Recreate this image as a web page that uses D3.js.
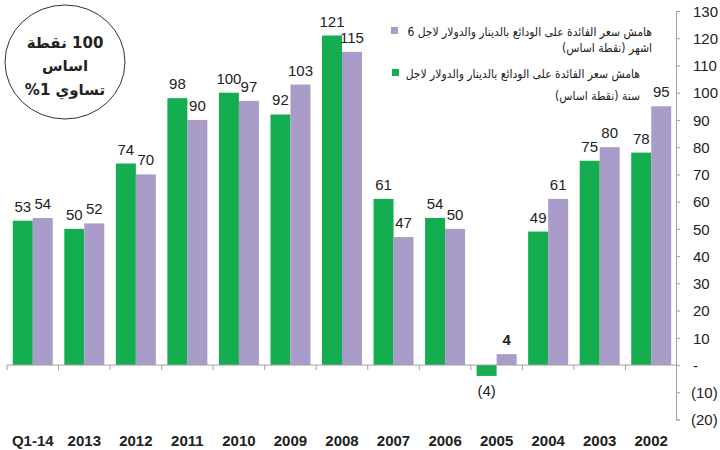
<html>
<head>
  <meta charset="UTF-8">
  <title>هامش سعر الفائدة</title>
  <style>
    body { margin: 0; padding: 0; background: #fff; }
    svg { display: block; }
    .num { font-family: "Liberation Sans Narrow", "Arial Narrow", "Liberation Sans", Arial, sans-serif; }
    .ar { font-family: "DejaVu Sans Condensed", "DejaVu Sans", sans-serif; font-stretch: condensed; }
    .note { font-family: "DejaVu Sans", sans-serif; }
  </style>
</head>
<body>
  <div id="chart"></div>
  <script src="https://cdnjs.cloudflare.com/ajax/libs/d3/7.8.4/d3.min.js"></script>
  <script>
    // data
    const categories = ["Q1-14", "2013", "2012", "2011", "2010", "2009", "2008", "2007", "2006", "2005", "2004", "2003", "2002"];
    const oneYear = [53, 50, 74, 98, 100, 92, 121, 61, 54, -4, 49, 75, 78];
    const sixMonths = [54, 52, 70, 90, 97, 103, 115, 47, 50, 4, 61, 80, 95];
    const yTicks = [130, 120, 110, 100, 90, 80, 70, 60, 50, 40, 30, 20, 10, 0, -10, -20];
    const legendSix = ["هامش سعر الفائدة على الودائع بالدينار والدولار لاجل 6", "اشهر (نقطة اساس)"];
    const legendYear = ["هامش سعر الفائدة على الودائع بالدينار والدولار لاجل", "سنة (نقطة اساس)"];
    const noteLines = ["100 نقطة", "اساس", "تساوي 1%"];

    const width = 720;
    const height = 450;
    const green = "#14ad4f";
    const purple = "#aa9cc9";

    const svg = d3.select("#chart")
      .append("svg")
      .attr("width", width)
      .attr("height", height);

    const x = d3.scaleBand()
      .domain(categories)
      .range([7, 677])
      .paddingInner(0)
      .paddingOuter(0);

    const y = d3.scaleLinear()
      .domain([-20, 130])
      .range([419.5, 11]);

    const barW = 20;

    // y axis on the right
    const yAxis = d3.axisRight(y)
      .tickValues(yTicks)
      .tickSize(4)
      .tickPadding(13)
      .tickFormat(d => d === 0 ? "-" : d < 0 ? "(" + (-d) + ")" : d);

    const ga = svg.append("g")
      .attr("transform", "translate(676,0)")
      .call(yAxis);
    ga.selectAll("path, line").attr("stroke", "#a0a0a0");
    ga.selectAll("text")
      .attr("class", "num")
      .attr("font-size", 15)
      .attr("fill", "#222")
      .attr("dy", "0.35em");
    ga.selectAll(".tick")
      .filter(d => d < 0)
      .select("text")
      .attr("x", 15);

    // bars
    const groups = svg.selectAll("g.cat")
      .data(categories)
      .enter()
      .append("g")
      .attr("class", "cat")
      .attr("transform", d => `translate(${x(d) + x.bandwidth() / 2},0)`);

    function drawSeries(values, color, offset, bold) {
      groups.append("rect")
        .attr("x", offset)
        .attr("width", barW)
        .attr("y", (d, i) => y(Math.max(0, values[i])))
        .attr("height", (d, i) => Math.abs(y(values[i]) - y(0)))
        .attr("fill", color);

      groups.append("text")
        .attr("class", "num")
        .attr("x", offset + barW / 2)
        .attr("y", (d, i) => values[i] >= 0 ? y(values[i]) - 9 : y(values[i]) + 20)
        .attr("text-anchor", "middle")
        .attr("font-size", 15)
        .attr("fill", "#222")
        .attr("font-weight", (d, i) => bold && Math.abs(values[i]) < 10 ? "bold" : "normal")
        .text((d, i) => values[i] < 0 ? "(" + (-values[i]) + ")" : values[i]);
    }

    drawSeries(oneYear, green, -barW, false);
    drawSeries(sixMonths, purple, 0, true);

    // zero baseline with category ticks
    svg.append("line")
      .attr("x1", x.range()[0])
      .attr("x2", 676)
      .attr("y1", y(0))
      .attr("y2", y(0))
      .attr("stroke", "#a0a0a0");

    svg.selectAll("line.sep")
      .data(categories)
      .enter()
      .append("line")
      .attr("class", "sep")
      .attr("x1", d => x(d))
      .attr("x2", d => x(d))
      .attr("y1", y(0))
      .attr("y2", y(0) + 5)
      .attr("stroke", "#a0a0a0");

    // category labels
    svg.selectAll("text.cat")
      .data(categories)
      .enter()
      .append("text")
      .attr("class", "cat")
      .attr("x", d => x(d) + x.bandwidth() / 2)
      .attr("y", 446)
      .attr("text-anchor", "middle")
      .attr("font-family", "'Liberation Sans', Arial, sans-serif")
      .attr("font-size", 15)
      .attr("font-weight", "bold")
      .attr("fill", "#222")
      .text(d => d);

    // legend, right to left
    function legendEntry(lines, color, sx, sy, right, ys) {
      svg.append("rect")
        .attr("x", sx)
        .attr("y", sy)
        .attr("width", 7)
        .attr("height", 7)
        .attr("fill", color);
      lines.forEach((t, i) => {
        svg.append("text")
          .attr("class", "ar")
          .attr("x", right)
          .attr("y", ys[i])
          .attr("direction", "rtl")
          .attr("text-anchor", "start")
          .attr("font-size", 12)
          .attr("fill", "#222")
          .text(t);
      });
    }
    legendEntry(legendSix, purple, 391, 27, 652, [36, 52]);
    legendEntry(legendYear, green, 392, 69, 640, [78, 100]);

    // note ellipse
    svg.append("ellipse")
      .attr("cx", 65)
      .attr("cy", 62)
      .attr("rx", 60)
      .attr("ry", 57)
      .attr("fill", "none")
      .attr("stroke", "#333")
      .attr("stroke-width", 1);

    svg.selectAll("text.note")
      .data(noteLines)
      .enter()
      .append("text")
      .attr("class", "note")
      .attr("x", 65)
      .attr("y", (d, i) => [48, 71, 95][i])
      .attr("direction", "rtl")
      .attr("text-anchor", "middle")
      .attr("font-size", 15)
      .attr("font-weight", "bold")
      .attr("fill", "#222")
      .text(d => d);
  </script>
</body>
</html>
